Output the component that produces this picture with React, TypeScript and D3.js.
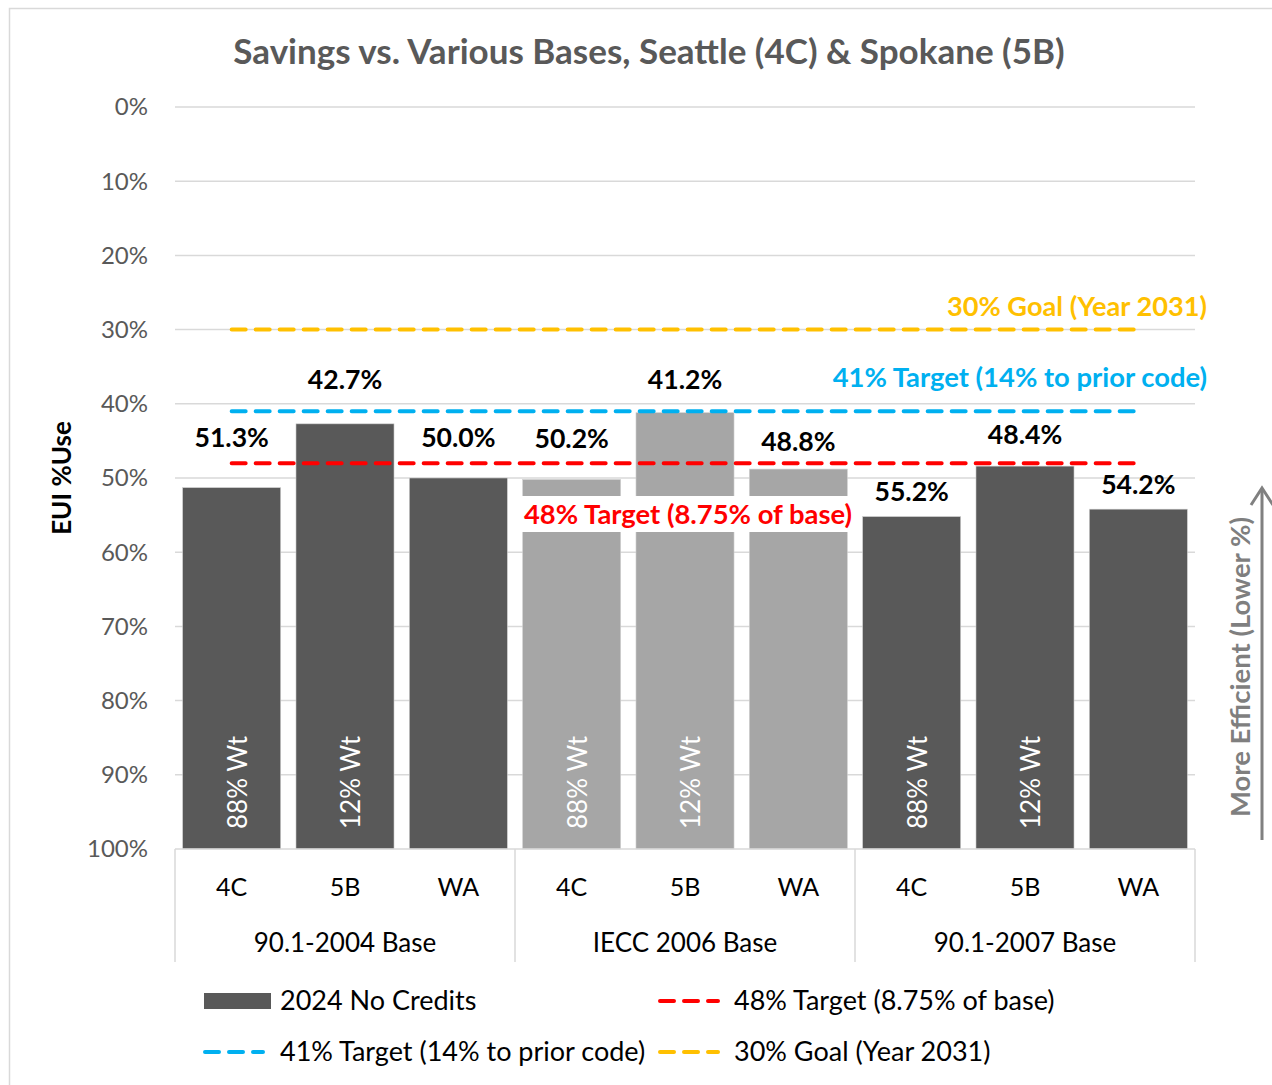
import React from "react";
import * as d3 from "d3";

const categories = ["4C", "5B", "WA", "4C", "5B", "WA", "4C", "5B", "WA"];
const groups = ["90.1-2004 Base", "IECC 2006 Base", "90.1-2007 Base"];
const values = [51.3, 42.7, 50.0, 50.2, 41.2, 48.8, 55.2, 48.4, 54.2];
const labelPct = [44.5, 36.8, 44.6, 44.7, 36.8, 45.1, 51.9, 44.1, 50.9];
const weightLabels = ["88% Wt", "12% Wt", "", "88% Wt", "12% Wt", "", "88% Wt", "12% Wt", ""];
const yTicks = [0, 10, 20, 30, 40, 50, 60, 70, 80, 90, 100];
const targets = [
  { value: 48, color: "#ff0000", label: "48% Target (8.75% of base)" },
  { value: 41, color: "#00b0f0", label: "41% Target (14% to prior code)" },
  { value: 30, color: "#ffc000", label: "30% Goal (Year 2031)" },
];

const FONT = "Lato, 'Open Sans', sans-serif";

export default function App() {
  const W = 1272, H = 1085;
  const left = 175, right = 1195, top = 107, bottom = 849;
  const y = d3.scaleLinear().domain([0, 100]).range([top, bottom]);
  const x = d3
    .scaleBand<number>()
    .domain(d3.range(categories.length))
    .range([left, right])
    .paddingInner(0.135)
    .paddingOuter(0.0675);
  const groupW = (right - left) / groups.length;
  const bw = x.bandwidth();
  const cx = (i: number) => (x(i) as number) + bw / 2;
  const lineX1 = cx(0);
  const lineX2 = cx(categories.length - 1);

  return (
    <svg width={W} height={H} style={{ display: "block", position: "absolute", left: 0, top: 0 }} fontFamily={FONT}>
      <rect x={0} y={0} width={W} height={H} fill="#fff" />
      <rect x={9.5} y={8.5} width={1270} height={1080} fill="none" stroke="#d9d9d9" strokeWidth={1.5} />
      <text x={649} y={52} dy="0.35em" textAnchor="middle" fontSize={35} fontWeight="bold" fill="#595959">
        Savings vs. Various Bases, Seattle (4C) &amp; Spokane (5B)
      </text>

      {yTicks.map((t) => (
        <g key={t}>
          {t < 100 && <line x1={left} x2={right} y1={y(t)} y2={y(t)} stroke="#d9d9d9" strokeWidth={1.5} />}
          <text x={148} y={y(t)} dy="0.35em" textAnchor="end" fontSize={24} fill="#595959">
            {t}%
          </text>
        </g>
      ))}

      <text transform={`translate(62,${478}) rotate(-90)`} dy="0.35em" textAnchor="middle" fontSize={26} fontWeight="bold" fill="#000">
        EUI %Use
      </text>

      {values.map((v, i) => (
        <rect
          key={i}
          x={x(i) as number}
          y={y(v)}
          width={bw}
          height={y(100) - y(v)}
          fill={i >= 3 && i < 6 ? "#a6a6a6" : "#595959"}
          stroke="#d0d0d0"
          strokeWidth={0.6}
        />
      ))}

      {weightLabels.map((w, i) =>
        w ? (
          <text
            key={i}
            transform={`translate(${cx(i) + 15},${829}) rotate(-90)`}
            fontSize={26}
            fill="#fff"
          >
            {w}
          </text>
        ) : null
      )}

      {/* axis */}
      <line x1={left} x2={right} y1={bottom} y2={bottom} stroke="#d9d9d9" strokeWidth={1.5} />
      {d3.range(groups.length + 1).map((g) => (
        <line key={g} x1={left + g * groupW} x2={left + g * groupW} y1={bottom} y2={962} stroke="#d9d9d9" strokeWidth={1.5} />
      ))}
      {categories.map((c, i) => (
        <text key={i} x={cx(i)} y={887} dy="0.35em" textAnchor="middle" fontSize={25} fill="#000">
          {c}
        </text>
      ))}
      {groups.map((g, i) => (
        <text key={i} x={left + (i + 0.5) * groupW} y={943} dy="0.35em" textAnchor="middle" fontSize={26} fill="#000">
          {g}
        </text>
      ))}

      {/* red label background */}
      <rect x={520} y={496} width={333} height={36} fill="#fff" />
      <text x={688} y={514} dy="0.35em" textAnchor="middle" fontSize={27.4} fontWeight="bold" fill="#ff0000">
        {targets[0].label}
      </text>

      {targets.map((t) => (
        <line
          key={t.value}
          x1={lineX1}
          x2={lineX2}
          y1={y(t.value)}
          y2={y(t.value)}
          stroke={t.color}
          strokeWidth={4}
          strokeDasharray="14,10"
          strokeLinecap="round"
        />
      ))}

      <text x={1207} y={306} dy="0.35em" textAnchor="end" fontSize={27.2} fontWeight="bold" fill="#ffc000">
        {targets[2].label}
      </text>
      <text x={1207} y={377} dy="0.35em" textAnchor="end" fontSize={27.4} fontWeight="bold" fill="#00b0f0">
        {targets[1].label}
      </text>

      {values.map((v, i) => (
        <text key={i} x={cx(i)} y={y(labelPct[i])} dy="0.35em" textAnchor="middle" fontSize={26.6} fontWeight="bold" fill="#000">
          {v.toFixed(1)}%
        </text>
      ))}

      {/* efficiency arrow */}
      <line x1={1262} x2={1262} y1={840} y2={489} stroke="#808080" strokeWidth={3} />
      <polyline points="1251,505 1262,488 1273,505" fill="none" stroke="#808080" strokeWidth={3} />
      <text transform={`translate(1240,667) rotate(-90)`} dy="0.35em" textAnchor="middle" fontSize={27.5} fontWeight="bold" fill="#7f7f7f">
        More Efficient (Lower %)
      </text>

      {/* legend */}
      <rect x={204} y={993} width={67} height={16} fill="#595959" />
      <text x={280} y={1001} dy="0.35em" fontSize={27} fill="#000">2024 No Credits</text>
      <line x1={660} x2={718} y1={1001} y2={1001} stroke="#ff0000" strokeWidth={4} strokeDasharray="14,10" strokeLinecap="round" />
      <text x={734} y={1001} dy="0.35em" fontSize={27} fill="#000">{targets[0].label}</text>
      <line x1={205} x2={263} y1={1052} y2={1052} stroke="#00b0f0" strokeWidth={4} strokeDasharray="14,10" strokeLinecap="round" />
      <text x={280} y={1052} dy="0.35em" fontSize={27} fill="#000">{targets[1].label}</text>
      <line x1={660} x2={718} y1={1052} y2={1052} stroke="#ffc000" strokeWidth={4} strokeDasharray="14,10" strokeLinecap="round" />
      <text x={734} y={1052} dy="0.35em" fontSize={27} fill="#000">{targets[2].label}</text>
    </svg>
  );
}
